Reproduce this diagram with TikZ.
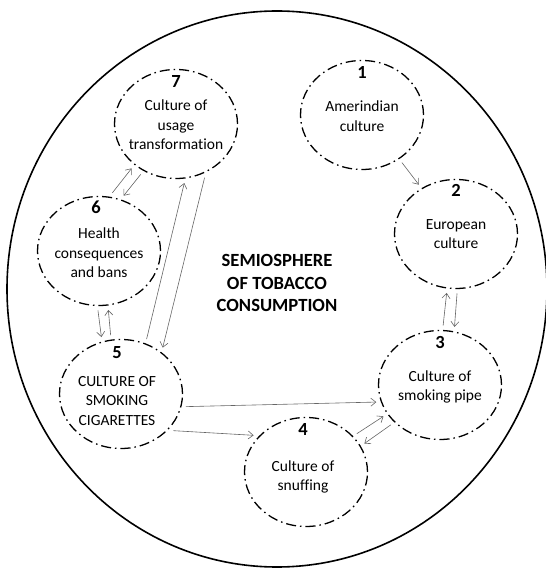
\documentclass[tikz,border=0pt]{standalone}
\usepackage{fontspec}
\setmainfont[Ligatures=CommonOff]{Carlito}
\usetikzlibrary{arrows.meta,shapes.geometric,calc}
\begin{document}
\begin{tikzpicture}[x=1pt,y=1pt,
  culture/.style={ellipse, draw, line width=1.3pt, dash pattern=on 10pt off 4pt on 1.5pt off 4pt, minimum width=123pt, minimum height=109pt, inner sep=0pt, outer sep=5pt},
  num/.style={font=\fontsize{18.5}{20}\selectfont\bfseries, inner sep=0pt},
  txt/.style={font=\fontsize{15.5}{19.5}\selectfont, align=center, inner sep=0pt},
  title/.style={font=\fontsize{18.6}{22.5}\selectfont\bfseries, align=center, inner sep=0pt},
  link/.style={draw=black!60, line width=0.6pt, -{Straight Barb[length=5pt,width=8pt]}}
]
\useasboundingbox (0,0) rectangle (546,568);
\begin{scope}
\clip (0,0) rectangle (546,568);
\draw[line width=1.6pt] (277,279) ellipse [x radius=270, y radius=278];
\end{scope}

\node[culture] (n1) at (362,453) {};
\node[culture] (n2) at (456,334) {};
\node[culture] (n3) at (440,183) {};
\node[culture] (n4) at (306,96) {};
\node[culture] (n5) at (121,174) {};
\node[culture] (n6) at (99,317) {};
\node[culture] (n7) at (176,444) {};

\node[num] (n1num) at ($(n1)+(0,43)$) {1};
\node[num] (n2num) at ($(n2)+(0,44)$) {2};
\node[num] (n3num) at ($(n3)+(0,43)$) {3};
\node[num] (n4num) at ($(n4)+(-3,43)$) {4};
\node[num] (n5num) at ($(n5)+(-4,41)$) {5};
\node[num] (n6num) at ($(n6)+(-3,44)$) {6};
\node[num] (n7num) at ($(n7)+(0,42)$) {7};

\node[txt] (n1txt) at (362,452) {Amerindian\\culture};
\node[txt] (n2txt) at (456,334) {European\\culture};
\node[txt] (n3txt) at (440,181) {Culture of\\smoking pipe};
\node[txt] (n4txt) at (303,91) {Culture of\\snuffing};
\node[txt] (n5txt) at (117,167) {CULTURE OF\\SMOKING\\CIGARETTES};
\node[txt] (n6txt) at (99,315) {Health\\consequences\\and bans};
\node[txt] (n7txt) at (176,443) {Culture of\\usage\\transformation};

\node[title] (ttl) at (277,285) {SEMIOSPHERE\\OF TOBACCO\\CONSUMPTION};

\draw[link] (n1.-50) -- (n2.127);
\draw[link] (n3.87) -- (n2.261);
\draw[link] (n2.-89) -- (n3.76);
\draw[link] (n5.-11) -- (n3.195);
\draw[link] (n5.-35) -- (n4.145);
\draw[link] (n4.37) -- (n3.209);
\draw[link] (n3.219) -- (n4.26);
\draw[link] (n6.77) -- (n7.225);
\draw[link] (n7.235) -- (n6.66);
\draw[link] (n5.65) -- (n7.-82);
\draw[link] (n7.-62) -- (n5.48);
\draw[link] (n6.-91) -- (n5.109);
\draw[link] (n5.100) -- (n6.-81);
\end{tikzpicture}
\end{document}
